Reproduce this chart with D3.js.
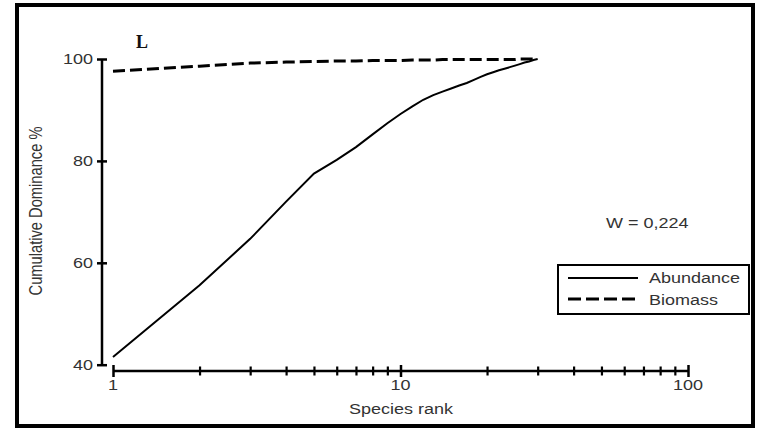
<!DOCTYPE html>
<html><head><meta charset="utf-8">
<script src="https://cdn.jsdelivr.net/npm/d3@7"></script>
<style>html,body{margin:0;padding:0;background:#fff;}svg{display:block;}</style>
</head><body>
<svg id="chart" width="767" height="430"></svg>
<script>
// ---- data ----
const ranks = [1,2,3,4,5,6,7,8,9,10,11,12,13,14,15,16,17,18,19,20,21,22,23,24,25,26,27,28,29,30];
const abundance = [41.5,55.6,64.7,72.0,77.5,80.2,82.7,85.2,87.4,89.2,90.7,92.0,92.9,93.6,94.2,94.8,95.3,95.9,96.5,97.0,97.4,97.8,98.1,98.4,98.7,99.0,99.3,99.5,99.8,100];
const biomass = [97.6,98.6,99.2,99.4,99.5,99.6,99.6,99.7,99.7,99.7,99.8,99.8,99.8,99.9,99.9,99.9,99.9,99.9,99.9,99.9,99.9,99.9,99.9,99.9,99.9,100,100,100,100,100];
const yTicks = [40,60,80,100];
const xMajorTicks = [1,10,100];
const xMinorTicks = [2,3,4,5,6,7,8,9,20,30,40,50,60,70,80,90];
const seriesNames = ["Abundance","Biomass"];
const panelLabel = "L";
const statText = "W = 0,224";
const xTitle = "Species rank";
const yTitle = "Cumulative Dominance %";

const svg = d3.select("#chart");
const FONT = "'Liberation Sans', Arial, sans-serif";
const SX = 1.2; // horizontal stretch of the original text
const txtColor = "#333";

// frame
svg.append("rect").attr("x",17).attr("y",5).attr("width",736).attr("height",421)
  .attr("fill","none").attr("stroke","#000").attr("stroke-width",4);

const x = d3.scaleLog().domain([1,100]).range([113,688]);
const y = d3.scaleLinear().domain([40,100]).range([364.7,59]);

function stretchedText(g, tx, ty, str, anchor, size){
  return g.append("text")
    .attr("transform",`translate(${tx},${ty}) scale(${SX},1)`)
    .attr("text-anchor",anchor||"start")
    .attr("font-family",FONT).attr("font-size",size||15)
    .attr("fill",txtColor).text(str);
}

// y axis
const yAxisG = svg.append("g").attr("transform","translate(102,0)")
  .call(d3.axisLeft(y).tickValues(yTicks).tickSize(0).tickFormat(""));
yAxisG.select(".domain").attr("stroke","#000").attr("stroke-width",2.5)
  .attr("d",`M0,${y(100)}V${y(40)}`);
yAxisG.selectAll(".tick line").attr("x1",-5).attr("x2",5).attr("stroke","#000").attr("stroke-width",2.5);
yTicks.forEach(v=>{
  stretchedText(svg, 93, y(v)+5, String(v), "end", 15);
});

// x axis
const xAxisY = 371;
const xAxisG = svg.append("g").attr("transform",`translate(0,${xAxisY})`)
  .call(d3.axisBottom(x).tickValues(xMajorTicks.concat(xMinorTicks)).tickSize(0).tickFormat(""));
xAxisG.select(".domain").attr("stroke","#000").attr("stroke-width",2.5)
  .attr("d",`M${x(1)},0H${x(100)}`);
xAxisG.selectAll(".tick line")
  .attr("y1",d=>xMajorTicks.includes(d)?-6:-4.5)
  .attr("y2",d=>xMajorTicks.includes(d)?6:4.5)
  .attr("stroke","#000").attr("stroke-width",d=>xMajorTicks.includes(d)?2.5:2.2);
xMajorTicks.forEach(v=>{
  stretchedText(svg, x(v), 390, String(v), "middle", 15);
});

// axis titles
stretchedText(svg, 401, 414, xTitle, "middle", 15);
svg.append("text")
  .attr("transform",`translate(42,211) scale(${SX},1) rotate(-90)`)
  .attr("text-anchor","middle").attr("font-family",FONT).attr("font-size",14.7)
  .attr("fill",txtColor).text(yTitle);

// lines
const line = d3.line().x(d=>x(d[0])).y(d=>y(d[1]));
svg.append("path").datum(ranks.map((r,i)=>[r,abundance[i]]))
  .attr("d",line).attr("fill","none").attr("stroke","#000").attr("stroke-width",2);
svg.append("path").datum(ranks.map((r,i)=>[r,biomass[i]]))
  .attr("d",line).attr("fill","none").attr("stroke","#000").attr("stroke-width",3)
  .attr("stroke-dasharray","12,5");

// panel label
svg.append("text").attr("x",136).attr("y",48)
  .attr("font-family","'Liberation Serif','Times New Roman',serif").attr("font-weight","bold")
  .attr("font-size",18).attr("fill","#111").text(panelLabel);

// statistic
stretchedText(svg, 606, 228, statText, "start", 15);

// legend
svg.append("rect").attr("x",558).attr("y",265).attr("width",191).attr("height",49)
  .attr("fill","#fff").attr("stroke","#000").attr("stroke-width",2);
svg.append("line").attr("x1",568).attr("x2",638).attr("y1",278).attr("y2",278)
  .attr("stroke","#000").attr("stroke-width",2);
svg.append("line").attr("x1",568).attr("x2",640).attr("y1",299).attr("y2",299)
  .attr("stroke","#000").attr("stroke-width",3).attr("stroke-dasharray","13,5");
stretchedText(svg, 649, 283, seriesNames[0], "start", 15);
stretchedText(svg, 649, 305, seriesNames[1], "start", 15);
</script>
</body></html>
